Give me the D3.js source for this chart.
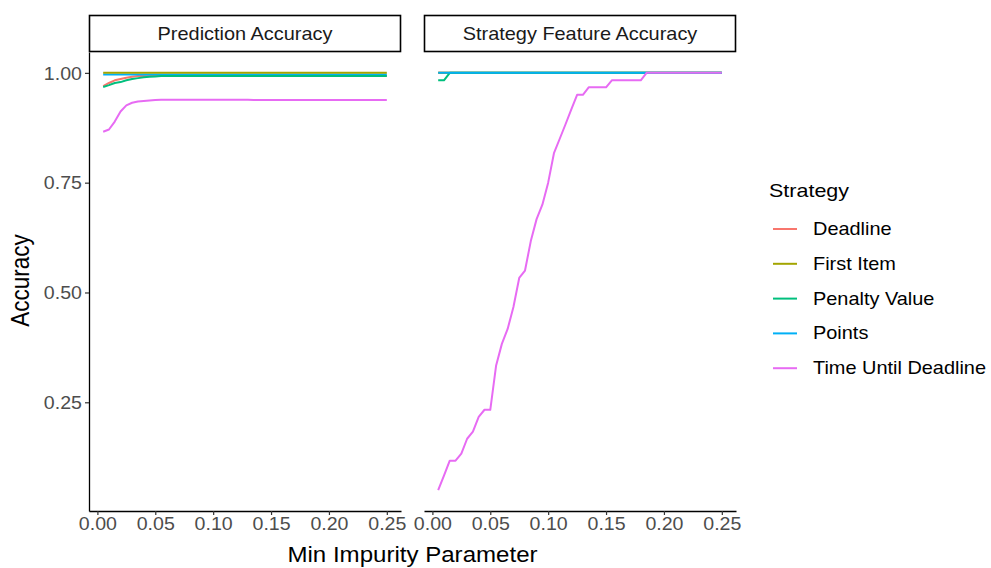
<!DOCTYPE html>
<html>
<head>
<meta charset="utf-8">
<script src="https://cdn.jsdelivr.net/npm/d3@7"></script>
<style>
  html, body { margin: 0; padding: 0; background: #fff; }
  svg { display: block; }
  text { font-family: "Liberation Sans", Arial, Helvetica, sans-serif; }
</style>
</head>
<body>
<svg id="chart" width="991" height="568"></svg>
<script>
// Min impurity parameter grid shared by every series
const minImpurity = [
  0.005, 0.010, 0.015, 0.020, 0.025, 0.030, 0.035, 0.040, 0.045, 0.050,
  0.055, 0.060, 0.065, 0.070, 0.075, 0.080, 0.085, 0.090, 0.095, 0.100,
  0.105, 0.110, 0.115, 0.120, 0.125, 0.130, 0.135, 0.140, 0.145, 0.150,
  0.155, 0.160, 0.165, 0.170, 0.175, 0.180, 0.185, 0.190, 0.195, 0.200,
  0.205, 0.210, 0.215, 0.220, 0.225, 0.230, 0.235, 0.240, 0.245, 0.250
];

const strategies = ["Deadline", "First Item", "Penalty Value", "Points", "Time Until Deadline"];
const facets = ["Prediction Accuracy", "Strategy Feature Accuracy"];
const xTicks = [0.00, 0.05, 0.10, 0.15, 0.20, 0.25];
const yTicks = [0.25, 0.50, 0.75, 1.00];

// Prediction accuracy per strategy
const predDeadline = [
  0.970, 0.977, 0.983, 0.986, 0.989, 0.991, 0.993, 0.993, 0.993, 0.993,
  0.993, 0.993, 0.993, 0.993, 0.993, 0.993, 0.993, 0.993, 0.993, 0.993,
  0.993, 0.993, 0.993, 0.993, 0.993, 0.993, 0.993, 0.993, 0.993, 0.993,
  0.993, 0.993, 0.993, 0.993, 0.993, 0.993, 0.993, 0.993, 0.993, 0.993,
  0.993, 0.993, 0.993, 0.993, 0.993, 0.993, 0.993, 0.993, 0.993, 0.993
];
const predFirstItem = [
  1.000, 1.000, 1.000, 1.000, 1.000, 1.000, 1.000, 1.000, 1.000, 1.000,
  1.000, 1.000, 1.000, 1.000, 1.000, 1.000, 1.000, 1.000, 1.000, 1.000,
  1.000, 1.000, 1.000, 1.000, 1.000, 1.000, 1.000, 1.000, 1.000, 1.000,
  1.000, 1.000, 1.000, 1.000, 1.000, 1.000, 1.000, 1.000, 1.000, 1.000,
  1.000, 1.000, 1.000, 1.000, 1.000, 1.000, 1.000, 1.000, 1.000, 1.000
];
const predPenalty = [
  0.968, 0.972, 0.977, 0.979, 0.983, 0.986, 0.988, 0.990, 0.991, 0.992,
  0.993, 0.993, 0.993, 0.993, 0.993, 0.993, 0.993, 0.993, 0.993, 0.993,
  0.993, 0.993, 0.993, 0.993, 0.993, 0.993, 0.993, 0.993, 0.993, 0.993,
  0.993, 0.993, 0.993, 0.993, 0.993, 0.993, 0.993, 0.993, 0.993, 0.993,
  0.993, 0.993, 0.993, 0.993, 0.993, 0.993, 0.993, 0.993, 0.993, 0.993
];
const predPoints = [
  0.996, 0.996, 0.996, 0.996, 0.996, 0.996, 0.996, 0.996, 0.996, 0.996,
  0.996, 0.996, 0.996, 0.996, 0.996, 0.996, 0.996, 0.996, 0.996, 0.996,
  0.996, 0.996, 0.996, 0.996, 0.996, 0.996, 0.996, 0.996, 0.996, 0.996,
  0.996, 0.996, 0.996, 0.996, 0.996, 0.996, 0.996, 0.996, 0.996, 0.996,
  0.996, 0.996, 0.996, 0.996, 0.996, 0.996, 0.996, 0.996, 0.996, 0.996
];
const predTimeUntil = [
  0.866, 0.871, 0.889, 0.912, 0.926, 0.932, 0.935, 0.936, 0.937, 0.938,
  0.939, 0.939, 0.939, 0.939, 0.939, 0.939, 0.939, 0.939, 0.939, 0.939,
  0.939, 0.939, 0.939, 0.939, 0.939, 0.939, 0.938, 0.938, 0.938, 0.938,
  0.938, 0.938, 0.938, 0.938, 0.938, 0.938, 0.938, 0.938, 0.938, 0.938,
  0.938, 0.938, 0.938, 0.938, 0.938, 0.938, 0.938, 0.938, 0.938, 0.938
];

// Strategy feature accuracy per strategy
const featDeadline = predFirstItem.slice();
const featFirstItem = predFirstItem.slice();
const featPenalty = [
  0.983, 0.983, 1.000, 1.000, 1.000, 1.000, 1.000, 1.000, 1.000, 1.000,
  1.000, 1.000, 1.000, 1.000, 1.000, 1.000, 1.000, 1.000, 1.000, 1.000,
  1.000, 1.000, 1.000, 1.000, 1.000, 1.000, 1.000, 1.000, 1.000, 1.000,
  1.000, 1.000, 1.000, 1.000, 1.000, 1.000, 1.000, 1.000, 1.000, 1.000,
  1.000, 1.000, 1.000, 1.000, 1.000, 1.000, 1.000, 1.000, 1.000, 1.000
];
const featPoints = predFirstItem.slice();
const featTimeUntil = [
  0.050, 0.083, 0.117, 0.117, 0.133, 0.167, 0.183, 0.217, 0.233, 0.233,
  0.333, 0.383, 0.417, 0.467, 0.533, 0.550, 0.617, 0.667, 0.700, 0.750,
  0.817, 0.850, 0.883, 0.917, 0.950, 0.950, 0.967, 0.967, 0.967, 0.967,
  0.983, 0.983, 0.983, 0.983, 0.983, 0.983, 1.000, 1.000, 1.000, 1.000,
  1.000, 1.000, 1.000, 1.000, 1.000, 1.000, 1.000, 1.000, 1.000, 1.000
];

const colors = ["#F8766D", "#A3A500", "#00BF7D", "#00B0F6", "#E76BF3"];

const panelSeries = [
  [predDeadline, predFirstItem, predPenalty, predPoints, predTimeUntil],
  [featDeadline, featFirstItem, featPenalty, featPoints, featTimeUntil]
];
// drawing order of strategies within each panel
const drawOrders = [[0, 3, 1, 2, 4], [0, 1, 2, 3, 4]];

// ---- layout ----
const svg = d3.select("#chart");
const stretch = 1.12;          // horizontal text widening
const panelTop = 52, panelBottom = 511;
const panels = [{ x0: 89, x1: 401 }, { x0: 424, x1: 736 }];
const stripTop = 15;

// y scale with 5% padding on the data range
const allY = panelSeries.flat(2);
const yMin = d3.min(allY), yMax = d3.max(allY);
const yPad = (yMax - yMin) * 0.05;
const y = d3.scaleLinear().domain([yMin - yPad, yMax + yPad]).range([panelBottom, panelTop]);

const xMin = d3.min(minImpurity), xMax = d3.max(minImpurity);
const xPad = (xMax - xMin) * 0.05;

function wideText(sel) {
  // apply horizontal stretch around each text's own anchor
  sel.each(function () {
    const t = d3.select(this);
    const tx = +t.attr("x") || 0, ty = +t.attr("y") || 0;
    t.attr("x", 0).attr("y", 0)
     .attr("transform", (t.attr("transform") || "") + ` translate(${tx},${ty}) scale(${stretch},1)`);
  });
}

panels.forEach((p, pi) => {
  const x = d3.scaleLinear().domain([xMin - xPad, xMax + xPad]).range([p.x0, p.x1]);
  const g = svg.append("g");

  // strip
  g.append("rect")
    .attr("x", p.x0 + 0.5).attr("y", stripTop + 0.5)
    .attr("width", p.x1 - p.x0 - 1).attr("height", panelTop - stripTop - 1)
    .attr("fill", "#fff").attr("stroke", "#000").attr("stroke-width", 1.6);
  g.append("text")
    .attr("x", (p.x0 + p.x1) / 2).attr("y", (stripTop + panelTop) / 2 + 6)
    .attr("text-anchor", "middle").attr("font-size", 17.8).attr("fill", "#1A1A1A")
    .text(facets[pi])
    .call(wideText);

  // lines
  const line = d3.line().x((d, i) => x(minImpurity[i])).y(d => y(d));
  drawOrders[pi].forEach(si => {
    g.append("path")
      .datum(panelSeries[pi][si])
      .attr("d", line)
      .attr("fill", "none")
      .attr("stroke", colors[si])
      .attr("stroke-width", 2)
      .attr("stroke-linejoin", "round");
  });

  // x axis
  const xa = g.append("g")
    .attr("transform", `translate(0,${panelBottom})`)
    .call(d3.axisBottom(x).tickValues(xTicks).tickFormat(d3.format(".2f"))
      .tickSize(4).tickSizeOuter(0).tickPadding(3));
  xa.select(".domain").attr("stroke", "#000").attr("stroke-width", 1.3);
  xa.selectAll(".tick line").attr("stroke", "#333").attr("stroke-width", 1.2);
  xa.selectAll(".tick text")
    .attr("font-size", 17.5).attr("fill", "#4D4D4D").attr("font-family", "Liberation Sans, Arial, sans-serif")
    .attr("dy", "0.71em")
    .call(wideText);

  // y axis on the first panel only
  if (pi === 0) {
    const ya = g.append("g")
      .attr("transform", `translate(${p.x0},0)`)
      .call(d3.axisLeft(y).tickValues(yTicks).tickFormat(d3.format(".2f"))
        .tickSize(4).tickSizeOuter(0).tickPadding(3));
    ya.select(".domain").attr("stroke", "#000").attr("stroke-width", 1.3);
    ya.selectAll(".tick line").attr("stroke", "#333").attr("stroke-width", 1.2);
    ya.selectAll(".tick text")
      .attr("font-size", 17.5).attr("fill", "#4D4D4D").attr("font-family", "Liberation Sans, Arial, sans-serif")
      .attr("dy", "0.35em")
      .call(wideText);
  }
});

// axis titles
svg.append("text")
  .attr("x", (panels[0].x0 + panels[1].x1) / 2).attr("y", 562)
  .attr("text-anchor", "middle").attr("font-size", 21.5).attr("fill", "#000")
  .text("Min Impurity Parameter")
  .call(wideText);

svg.append("text")
  .attr("transform", `translate(29,${(panelTop + panelBottom) / 2 - 1}) rotate(-90) scale(1,${stretch})`)
  .attr("text-anchor", "middle").attr("font-size", 22.5).attr("fill", "#000")
  .text("Accuracy");

// legend
const legend = svg.append("g");
legend.append("text")
  .attr("x", 769).attr("y", 197)
  .attr("font-size", 19.2).attr("fill", "#000")
  .text("Strategy")
  .call(wideText);
strategies.forEach((s, i) => {
  const cy = 229 + i * 34.8;
  legend.append("line")
    .attr("x1", 773).attr("x2", 797).attr("y1", cy).attr("y2", cy)
    .attr("stroke", colors[i]).attr("stroke-width", 2);
  legend.append("text")
    .attr("x", 813).attr("y", cy + 6)
    .attr("font-size", 17.8).attr("fill", "#000")
    .text(s)
    .call(wideText);
});
</script>
</body>
</html>
